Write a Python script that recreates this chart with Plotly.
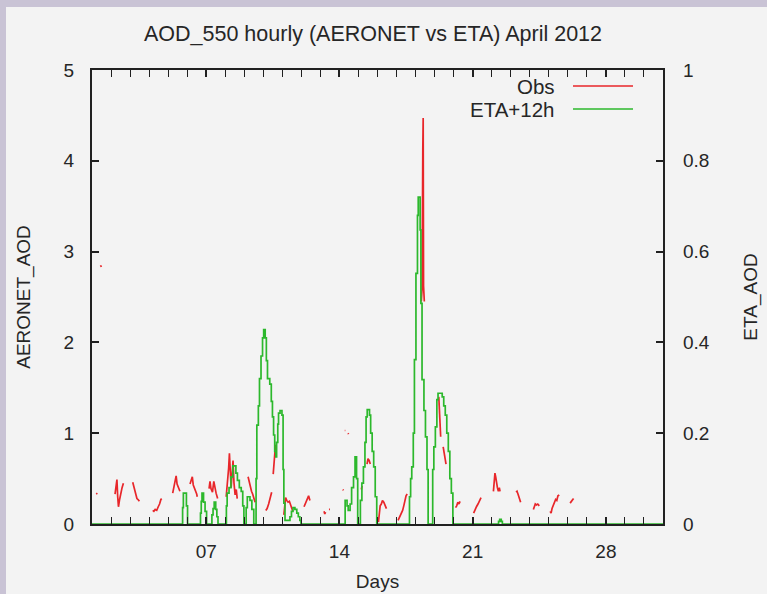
import plotly.graph_objects as go

# ---------------- data ----------------
# Observed AERONET AOD (left axis), day-of-month (fractional), None = gap
obs_day = [
    1.22, 1.28, None,
    1.45, 1.49, None,
    2.21, 2.27, 2.31, 2.35, 2.39, 2.45, 2.52, 2.58, 2.65, None,
    3.14, 3.19, 3.24, 3.30, 3.36, 3.42, 3.49, None,
    4.19, 4.25, 4.32, 4.40, 4.48, 4.55, 4.62, 4.66, None,
    5.24, 5.30, 5.36, 5.42, 5.47, 5.53, 5.58, 5.62, None,
    6.15, 6.22, 6.27, 6.32, 6.38, 6.44, 6.50, 6.53, None,
    7.15, 7.20, 7.25, 7.33, 7.40, 7.45, 7.52, 7.60, None,
    8.05, 8.12, 8.18, 8.22, 8.27, 8.31, 8.36, 8.41, 8.46, 8.52, 8.58, 8.63, None,
    9.20, 9.26, 9.32, 9.38, 9.44, 9.52, 9.57, None,
    10.13, 10.20, 10.28, 10.36, 10.44, None,
    10.52, 10.56, 10.60, 10.64, 10.68, None,
    11.08, 11.12, 11.17, 11.23, 11.30, 11.37, 11.43, 11.50, 11.55, None,
    12.14, 12.20, 12.26, 12.32, 12.38, 12.45, None,
    13.19, 13.23, 13.27, None,
    13.45, 13.50, None,
    14.18, 14.21, None,
    14.28, 14.31, None,
    14.45, 14.48, None,
    15.15, 15.19, None,
    15.45, 15.50, 15.56, 15.62, None,
    16.05, 16.09, 16.14, 16.20, 16.26, 16.33, 16.40, 16.47, None,
    17.08, 17.14, 17.20, 17.26, 17.32, 17.38, 17.44, 17.50, 17.56, None,
    18.30, 18.34, 18.38, 18.40, 18.42, 18.46, None,
    19.22, 19.26, 19.29, 19.32, None,
    19.45, 19.50, 19.55, 19.60, None,
    20.10, 20.16, 20.22, 20.28, 20.34, None,
    21.05, 21.12, 21.20, 21.28, 21.36, 21.44, None,
    22.09, 22.13, 22.17, 22.21, 22.26, 22.30, 22.35, 22.40, 22.44, None,
    23.28, 23.33, 23.38, 23.43, 23.48, 23.52, None,
    24.19, 24.24, 24.29, 24.35, 24.42, 24.50, None,
    25.07, 25.12, 25.17, 25.23, 25.30, 25.36, 25.42, 25.48, 25.55, None,
    26.12, 26.18, 26.24, 26.30,
]
obs_aod = [
    0.33, 0.34, None,
    2.85, 2.83, None,
    0.33, 0.40, 0.49, 0.30, 0.19, 0.27, 0.36, 0.40, 0.45, None,
    0.46, 0.42, 0.40, 0.33, 0.28, 0.27, 0.25, None,
    0.15, 0.14, 0.16, 0.15, 0.19, 0.22, 0.27, 0.28, None,
    0.34, 0.40, 0.48, 0.53, 0.44, 0.41, 0.38, 0.36, None,
    0.44, 0.48, 0.52, 0.43, 0.40, 0.36, 0.33, 0.30, None,
    0.39, 0.47, 0.39, 0.35, 0.47, 0.40, 0.34, 0.28, None,
    0.30, 0.45, 0.62, 0.78, 0.60, 0.40, 0.55, 0.70, 0.45, 0.32, 0.38, 0.28, None,
    0.52, 0.46, 0.43, 0.36, 0.33, 0.27, 0.24, None,
    0.15, 0.17, 0.22, 0.29, 0.35, None,
    0.55, 0.66, 0.80, 0.87, 0.86, None,
    0.10, 0.22, 0.29, 0.26, 0.24, 0.25, 0.20, 0.17, 0.14, None,
    0.19, 0.22, 0.25, 0.28, 0.31, 0.26, None,
    0.14, 0.11, 0.13, None,
    0.16, 0.16, None,
    0.38, 0.37, None,
    1.03, 1.03, None,
    1.00, 0.99, None,
    0.38, 0.42, None,
    0.66, 0.72, 0.70, 0.66, None,
    0.02, 0.10, 0.20, 0.22, 0.26, 0.24, 0.20, 0.17, None,
    0.04, 0.07, 0.10, 0.11, 0.15, 0.20, 0.26, 0.31, 0.33, None,
    2.45, 2.58, 4.12, 4.47, 2.62, 2.45, None,
    1.40, 1.25, 1.05, 0.96, None,
    0.85, 0.78, 0.70, 0.66, None,
    0.18, 0.20, 0.24, 0.22, 0.25, None,
    0.12, 0.16, 0.19, 0.22, 0.26, 0.29, None,
    0.36, 0.48, 0.56, 0.52, 0.44, 0.40, 0.36, 0.40, 0.36, None,
    0.35, 0.36, 0.33, 0.30, 0.25, 0.24, None,
    0.16, 0.20, 0.22, 0.21, 0.22, 0.20, None,
    0.14, 0.12, 0.17, 0.20, 0.24, 0.27, 0.26, 0.31, 0.32, None,
    0.23, 0.25, 0.27, 0.28,
]

# ETA +12h forecast AOD (right axis, 0-1), step line
eta_day = [
    1.00,
    5.76, 5.80, 5.96, 6.02,
    6.70, 6.74, 6.78, 6.86, 6.94, 7.02,
    7.30, 7.36, 7.42, 7.50, 7.56, 7.62,
    8.06, 8.10, 8.20, 8.30, 8.40, 8.56, 8.64, 8.74, 8.84, 8.92, 8.98,
    9.10, 9.16, 9.30, 9.40, 9.50,
    9.62, 9.66, 9.74, 9.80, 9.88, 9.96, 10.02, 10.10, 10.16, 10.22, 10.34,
    10.42, 10.48, 10.54, 10.60, 10.66, 10.70, 10.76, 10.80, 10.88, 10.98,
    11.04, 11.08, 11.14, 11.40, 11.48, 11.56, 11.66, 11.76, 11.84, 11.92, 11.98,
    14.30, 14.40, 14.46, 14.56, 14.64, 14.74, 14.82, 14.90, 14.96,
    15.10, 15.18, 15.26, 15.34, 15.40, 15.46, 15.58, 15.64, 15.72, 15.80, 15.88, 15.96,
    17.68, 17.74, 17.80, 17.88, 17.94, 18.02, 18.10, 18.14, 18.24, 18.28,
    18.34, 18.44, 18.52, 18.60, 18.66,
    18.90, 18.96, 19.04, 19.12, 19.18, 19.40, 19.48, 19.56, 19.64, 19.72,
    19.80, 19.88, 19.96,
    22.36, 22.42, 22.50, 22.56,
    31.00,
]
eta_aod = [
    0.0,
    0.036, 0.068, 0.040, 0.0,
    0.024, 0.050, 0.068, 0.048, 0.028, 0.0,
    0.020, 0.034, 0.048, 0.032, 0.016, 0.0,
    0.040, 0.068, 0.080, 0.104, 0.128, 0.112, 0.096, 0.080, 0.072, 0.040, 0.0,
    0.036, 0.060, 0.052, 0.032, 0.0,
    0.100, 0.218, 0.260, 0.320, 0.370, 0.410, 0.428, 0.410, 0.360, 0.320, 0.308,
    0.270, 0.236, 0.196, 0.160, 0.148, 0.180, 0.220, 0.244, 0.250, 0.240,
    0.120, 0.046, 0.008, 0.016, 0.028, 0.036, 0.032, 0.024, 0.016, 0.008, 0.0,
    0.052, 0.040, 0.030, 0.044, 0.080, 0.104, 0.148, 0.100, 0.0,
    0.052, 0.090, 0.126, 0.180, 0.236, 0.252, 0.240, 0.200, 0.160, 0.126, 0.060, 0.0,
    0.060, 0.100, 0.126, 0.200, 0.362, 0.552, 0.680, 0.720, 0.648, 0.486,
    0.318, 0.250, 0.192, 0.120, 0.0,
    0.120, 0.170, 0.214, 0.274, 0.288, 0.280, 0.260, 0.240, 0.200, 0.160,
    0.100, 0.068, 0.0,
    0.006, 0.010, 0.006, 0.0,
    0.0,
]

x_tick_vals = [7, 14, 21, 28]
x_tick_text = ["07", "14", "21", "28"]
series_names = ["Obs", "ETA+12h"]

# ---------------- styling ----------------
RED = "#e8262a"
GREEN = "#2cb82c"
TXT = "#262626"
AX = "#202020"
BG = "#f3f3f3"
BORDER = "#c9c3d5"
FONT = "Liberation Sans"
FS = 19

fig = go.Figure()
fig.add_trace(go.Scatter(x=obs_day, y=obs_aod, mode="lines", name=series_names[0],
                         line=dict(color=RED, width=1.7), connectgaps=False,
                         showlegend=False, yaxis="y"))
fig.add_trace(go.Scatter(x=eta_day, y=eta_aod, mode="lines", name=series_names[1],
                         line=dict(color=GREEN, width=1.7, shape="hv"),
                         showlegend=False, yaxis="y2"))

W, H = 767, 594
L, R, T, B = 92, 104, 70, 70
pw, ph = W - L - R, H - T - B

def px2x(px):
    return (px - L) / pw

def py2y(py):
    return (H - B - py) / ph

fig.update_layout(
    width=W, height=H, autosize=False,
    margin=dict(l=L, r=R, t=T, b=B, pad=0, autoexpand=False),
    paper_bgcolor=BG, plot_bgcolor=BG,
    font=dict(family=FONT, size=FS, color=TXT),
    title=dict(text="AOD_550 hourly (AERONET vs ETA) April 2012",
               x=px2x(373), xref="paper", xanchor="center",
               y=1 - 33 / H, yanchor="middle", yref="container",
               font=dict(family=FONT, size=21.5, color=TXT)),
    xaxis=dict(range=[1, 31], tickmode="array", tickvals=x_tick_vals, ticktext=x_tick_text,
               ticks="inside", ticklen=7, tickwidth=1.5, tickcolor=AX,
               showline=True, linecolor=AX, linewidth=2, mirror="allticks",
               showgrid=False, zeroline=False, automargin=False,
               ticklabelstandoff=9,
               minor=dict(tickmode="linear", tick0=1, dtick=1, ticks="inside",
                          ticklen=4, tickwidth=1.2, tickcolor=AX, showgrid=False),
               title=dict(text="Days", standoff=14, font=dict(size=FS))),
    yaxis=dict(range=[0, 5], dtick=1, tick0=0,
               ticks="inside", ticklen=7, tickwidth=1.5, tickcolor=AX,
               showline=True, linecolor=AX, linewidth=2, mirror=True,
               showgrid=False, zeroline=False, automargin=False,
               ticklabelstandoff=12,
               title=dict(text="AERONET_AOD", standoff=28, font=dict(size=FS))),
    yaxis2=dict(range=[0, 1], dtick=0.2, tick0=0, overlaying="y", side="right",
                ticks="inside", ticklen=7, tickwidth=1.5, tickcolor=AX,
                showline=False, showgrid=False, zeroline=False, automargin=False,
                ticklabelstandoff=19,
                title=dict(text="ETA_AOD", standoff=34, font=dict(size=FS))),
)

# manual legend (text left, sample line right, like the original)
leg_y = [86, 109]
leg_col = [RED, GREEN]
for name, yy, col in zip(series_names, leg_y, leg_col):
    fig.add_annotation(x=px2x(557), y=py2y(yy), xref="paper", yref="paper",
                       text=name, showarrow=False, xanchor="right", yanchor="middle",
                       font=dict(family=FONT, size=20.5, color=TXT))
    fig.add_shape(type="line", xref="paper", yref="paper",
                  x0=px2x(573), x1=px2x(633), y0=py2y(yy), y1=py2y(yy),
                  line=dict(color=col, width=1.7))

# lavender window frame on top and left edges
fig.add_shape(type="rect", xref="paper", yref="paper", layer="above",
              x0=px2x(0), x1=px2x(W), y0=py2y(7), y1=py2y(0),
              line=dict(width=0), fillcolor=BORDER)
fig.add_shape(type="rect", xref="paper", yref="paper", layer="above",
              x0=px2x(0), x1=px2x(6), y0=py2y(H), y1=py2y(0),
              line=dict(width=0), fillcolor=BORDER)

fig.write_html(
    "out.html",
    config={"displayModeBar": False},
    post_script="document.documentElement.style.margin='0';"
                "document.body.style.margin='0';"
                "document.body.style.overflow='hidden';",
)
